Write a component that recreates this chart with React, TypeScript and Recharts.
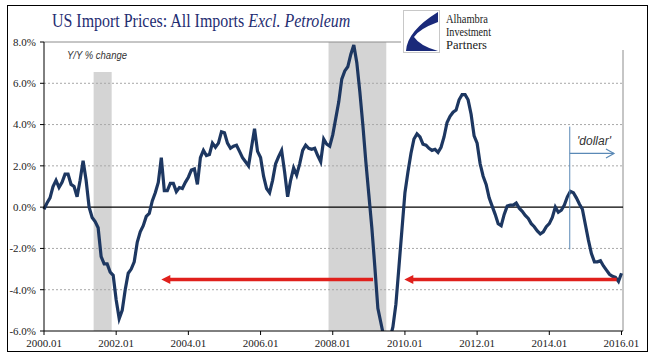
import React from 'react';
import { LineChart, Line, XAxis, YAxis, ReferenceArea, ReferenceLine, ReferenceDot } from 'recharts';

// Y/Y % change, monthly, one array per calendar year (Jan..Dec)
const yoy2000 = [-0.1, 0.2, 0.45, 1.0, 1.3, 0.95, 1.2, 1.6, 1.6, 1.1, 1.0, 0.5];
const yoy2001 = [1.3, 2.25, 1.3, 0.0, -0.5, -0.7, -1.0, -2.4, -2.75, -2.75, -3.15, -3.3];
const yoy2002 = [-4.5, -5.4, -5.0, -4.0, -3.2, -3.0, -2.65, -1.7, -1.2, -0.9, -0.45, -0.3];
const yoy2003 = [0.3, 0.7, 1.2, 2.4, 0.8, 0.8, 1.15, 1.15, 0.75, 0.95, 0.9, 1.2];
const yoy2004 = [1.45, 1.8, 1.85, 1.1, 2.4, 2.75, 2.5, 2.55, 3.1, 2.9, 3.1, 3.65];
const yoy2005 = [3.6, 3.1, 2.85, 2.95, 3.0, 2.7, 2.4, 2.2, 2.0, 2.9, 3.8, 2.7];
const yoy2006 = [2.4, 1.5, 0.9, 0.7, 1.3, 2.1, 2.45, 2.75, 1.7, 0.5, 1.3, 1.9];
const yoy2007 = [1.55, 2.1, 2.75, 3.0, 2.85, 2.8, 2.85, 2.5, 2.2, 3.3, 3.05, 2.95];
const yoy2008 = [3.5, 4.3, 5.1, 6.2, 6.6, 6.8, 7.4, 7.85, 7.0, 5.6, 4.0, 2.2];
const yoy2009 = [0.6, -1.0, -2.9, -4.9, -5.6, -6.3, -7.0, -6.4, -5.8, -4.7, -2.9, -1.1];
const yoy2010 = [0.7, 1.7, 2.6, 3.3, 3.55, 3.4, 3.05, 3.0, 2.85, 2.75, 2.8, 2.65];
const yoy2011 = [2.9, 3.4, 4.1, 4.4, 4.6, 4.7, 5.2, 5.45, 5.45, 5.2, 4.5, 3.45];
const yoy2012 = [3.1, 2.1, 1.5, 1.1, 0.45, 0.05, -0.35, -0.8, -0.9, -0.35, 0.05, 0.1];
const yoy2013 = [0.1, 0.2, -0.05, -0.2, -0.4, -0.55, -0.8, -0.95, -1.15, -1.3, -1.2, -0.95];
const yoy2014 = [-0.8, -0.5, 0.0, -0.25, -0.15, 0.1, 0.5, 0.77, 0.7, 0.45, 0.15, -0.1];
const yoy2015 = [-0.85, -1.6, -2.25, -2.65, -2.65, -2.6, -2.85, -3.05, -3.25, -3.35, -3.4, -3.6];
const yoy2016 = [-3.2];

const series = [
  yoy2000, yoy2001, yoy2002, yoy2003, yoy2004, yoy2005, yoy2006, yoy2007, yoy2008,
  yoy2009, yoy2010, yoy2011, yoy2012, yoy2013, yoy2014, yoy2015, yoy2016,
].flat();
const data = series.map((v, i) => ({ m: i, v }));

const xTickMonths = [0, 24, 48, 72, 96, 120, 144, 168, 192];
const xTickLabels = ['2000.01', '2002.01', '2004.01', '2006.01', '2008.01', '2010.01', '2012.01', '2014.01', '2016.01'];
const yTicks = [-6, -4, -2, 0, 2, 4, 6, 8];
const dashedGrid = [-4, -2, 2, 4, 6];
const recessions = [
  { from: 16.5, to: 22.5, top: 6.55 },
  { from: 94.6, to: 113.8, top: 8 },
];
const redArrows = [
  { head: 39, tail: 109.4, level: -3.5 },
  { head: 119.8, tail: 190.4, level: -3.5 },
];
const dollarMark = { at: 174.8, top: 3.9, bottom: -2.05, arrowEnd: 189.5, arrowLevel: 2.6 };

const RED = '#e0201c';
const BLUE = '#5a89b6';

const redHead = (p: any) => (
  <polygon points={`${p.cx},${p.cy} ${p.cx + 9},${p.cy - 4.5} ${p.cx + 9},${p.cy + 4.5}`} fill={RED} />
);
const blueHead = (p: any) => (
  <polyline points={`${p.cx - 8},${p.cy - 4.5} ${p.cx},${p.cy} ${p.cx - 8},${p.cy + 4.5}`} fill="none" stroke={BLUE} strokeWidth={1.2} />
);

export default function App() {
  return (
    <div style={{ position: 'absolute', left: 0, top: 0, width: 670, height: 358, background: '#fff' }}>
      <LineChart width={670} height={358} data={data} margin={{ top: 42, right: 47, bottom: 0, left: 0 }}>
        {recessions.map((r, i) => (
          <ReferenceArea key={'r' + i} x1={r.from} x2={r.to} y1={-6} y2={r.top} fill="#d4d4d4" fillOpacity={1} stroke="none" ifOverflow="visible" />
        ))}
        {dashedGrid.map((g) => (
          <ReferenceLine key={'g' + g} y={g} stroke="#a8a8a8" strokeDasharray="2 2" strokeWidth={1} />
        ))}
        <ReferenceLine y={8} stroke="#8c8c8c" strokeWidth={1} />
        <ReferenceLine x={192.5} stroke="#8c8c8c" strokeWidth={1} />
        <ReferenceLine y={0} stroke="#000" strokeWidth={1.2} />
        <XAxis
          type="number"
          dataKey="m"
          domain={[0, 192.5]}
          ticks={xTickMonths}
          interval={0}
          tickFormatter={(m: number) => xTickLabels[xTickMonths.indexOf(m)]}
          tick={{ fontFamily: 'Liberation Serif', fontSize: 11, fill: '#222' }}
          tickSize={4}
          tickMargin={4}
          height={27}
          axisLine={{ stroke: '#000' }}
          tickLine={{ stroke: '#000' }}
        />
        <YAxis
          type="number"
          domain={[-6, 8]}
          ticks={yTicks}
          interval={0}
          allowDataOverflow
          tickFormatter={(v: number) => v.toFixed(1) + '%'}
          tick={{ fontFamily: 'Liberation Serif', fontSize: 11, fill: '#222' }}
          tickSize={4}
          tickMargin={4}
          width={44}
          axisLine={{ stroke: '#000' }}
          tickLine={{ stroke: '#000' }}
        />
        <Line type="linear" dataKey="v" stroke="#1d3761" strokeWidth={3.2} dot={false} isAnimationActive={false} />
        {redArrows.map((a, i) => (
          <ReferenceLine
            key={'a' + i}
            segment={[{ x: a.head + 2.5, y: a.level }, { x: a.tail, y: a.level }]}
            stroke={RED}
            strokeWidth={3.5}
            ifOverflow="visible"
          />
        ))}
        {redArrows.map((a, i) => (
          <ReferenceDot key={'h' + i} x={a.head} y={a.level} r={0} shape={redHead} ifOverflow="visible" />
        ))}
        <ReferenceLine
          segment={[{ x: dollarMark.at, y: dollarMark.top }, { x: dollarMark.at, y: dollarMark.bottom }]}
          stroke={BLUE}
          strokeWidth={1}
        />
        <ReferenceLine
          segment={[{ x: dollarMark.at, y: dollarMark.arrowLevel }, { x: dollarMark.arrowEnd, y: dollarMark.arrowLevel }]}
          stroke={BLUE}
          strokeWidth={1.2}
        />
        <ReferenceDot x={dollarMark.arrowEnd} y={dollarMark.arrowLevel} r={0} shape={blueHead} ifOverflow="visible" />
      </LineChart>
      <svg width={670} height={358} style={{ position: 'absolute', left: 0, top: 0, pointerEvents: 'none' }}>
        <rect x={401} y={6} width={240} height={44} fill="#fff" />
        <rect x={7.5} y={5.5} width={640} height={346} fill="none" stroke="#000" strokeWidth={1} />
        <g transform="translate(52,27) scale(0.862,1)">
          <text x={0} y={0} fontFamily="Liberation Serif" fontSize={18.5} fill="#1f2d72" style={{ whiteSpace: 'pre' }}>
            US Import Prices: All Imports <tspan fontStyle="italic">Excl. Petroleum</tspan>
          </text>
        </g>
        <rect x={403.5} y={10.5} width={36} height={42} fill="#fff" stroke="#c8c8c8" />
        <path d="M438,12 L438,22 Q419,29 414,37 Q420,46 438,51 L406,51 Q407,31 438,12 Z" fill="#1a2a7a" />
        <text x={446} y={23} fontFamily="Liberation Serif" fontSize={12.5} fill="#222" textLength={42} lengthAdjust="spacingAndGlyphs">Alhambra</text>
        <text x={446} y={36} fontFamily="Liberation Serif" fontSize={12.5} fill="#222" textLength={45} lengthAdjust="spacingAndGlyphs">Investment</text>
        <text x={446} y={49} fontFamily="Liberation Serif" fontSize={12.5} fill="#222" textLength={41} lengthAdjust="spacingAndGlyphs">Partners</text>
        <text x={67} y={59} fontFamily="Liberation Sans" fontStyle="italic" fontSize={10} fill="#333" textLength={60} lengthAdjust="spacingAndGlyphs">Y/Y % change</text>
        <text x={577} y={145} fontFamily="Liberation Sans" fontStyle="italic" fontSize={12} fill="#333">'dollar'</text>
      </svg>
    </div>
  );
}
